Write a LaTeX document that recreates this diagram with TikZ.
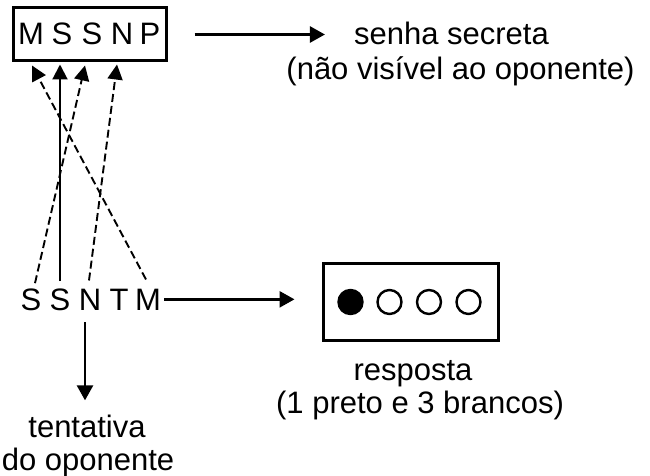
\documentclass[tikz,border=0pt]{standalone}
\usepackage{fontspec}
\setmainfont{Liberation Sans}
\usetikzlibrary{arrows.meta,calc}
\begin{document}
\begin{tikzpicture}[x=1pt,y=-1pt,
  every node/.style={font=\fontsize{31}{35}\selectfont},
  letter/.style={inner sep=0pt,anchor=base},
  txt/.style={inner sep=0pt,anchor=base},
  conn/.style={line width=2.6pt,-{Triangle[length=15pt,width=16pt]}},
  vconn/.style={line width=2.1pt,-{Triangle[length=15pt,width=15pt]}},
  dconn/.style={line width=1.9pt,dash pattern=on 8pt off 4pt,-{Triangle[length=15pt,width=15pt]}},
  frame/.style={draw,line width=3pt,inner sep=0pt},
  peg/.style={circle,draw,line width=2.4pt,minimum size=24pt,inner sep=0pt}]
\useasboundingbox (0,0) rectangle (650,476);
\fill[white] (0,0) rectangle (650,476);
% secret code
\node[frame,minimum width=153pt,minimum height=53pt] (secret) at (89.5,34.5) {};
\node[letter] (t1) at (31,45) {M};
\node[letter] (t2) at (62,45) {S};
\node[letter] (t3) at (92,45) {S};
\node[letter] (t4) at (122,45) {N};
\node[letter] (t5) at (150,45) {P};
\node[txt] (sec1) at (451.5,45) {senha secreta};
\node[txt] (sec2) at (460.5,80) {(não visível ao oponente)};
% guess
\node[letter] (b1) at (31,310) {S};
\node[letter] (b2) at (60,310) {S};
\node[letter] (b3) at (90,310) {N};
\node[letter] (b4) at (119,310) {T};
\node[letter] (b5) at (148,310) {M};
\node[txt] (tent) at (87,437) {tentativa};
\node[txt] (opon) at (88,470) {do oponente};
% response
\node[frame,minimum width=175pt,minimum height=77pt] (resp) at (410.5,301.5) {};
\node[peg,fill=black] (c1) at (350.5,302) {};
\node[peg] (c2) at (389.5,302) {};
\node[peg] (c3) at (429,302) {};
\node[peg] (c4) at (468.5,302) {};
\node[txt] (r1) at (413,380) {resposta};
\node[txt] (r2) at (420,413) {(1 preto e 3 brancos)};
% connectors
\draw[dconn] ($(b1.north)+(4,-5)$) -- ($(t3|-secret.south)+(-7,3)$);
\draw[vconn] ($(b2.north)+(0,-7)$) -- ($(t2|-secret.south)+(-2,2)$);
\draw[dconn] ($(b3.north)+(-1,-8)$) -- ($(t4|-secret.south)+(-5,2)$);
\draw[dconn] ($(b5.north)+(-2,-9)$) -- ($(t1|-secret.south)+(1,3)$);
\draw[conn] ($(secret.east)+(27,0)$) -- ($(sec1.west|-secret.east)+(-29,0)$);
\draw[conn] ($(b5.east)+(3,0)$) -- ($(resp.west|-b5.east)+(-27,0)$);
\draw[conn] ($(b3.south)+(-5,12)$) -- ($(b3.south|-tent.north)+(-5,-14)$);
\end{tikzpicture}
\end{document}
